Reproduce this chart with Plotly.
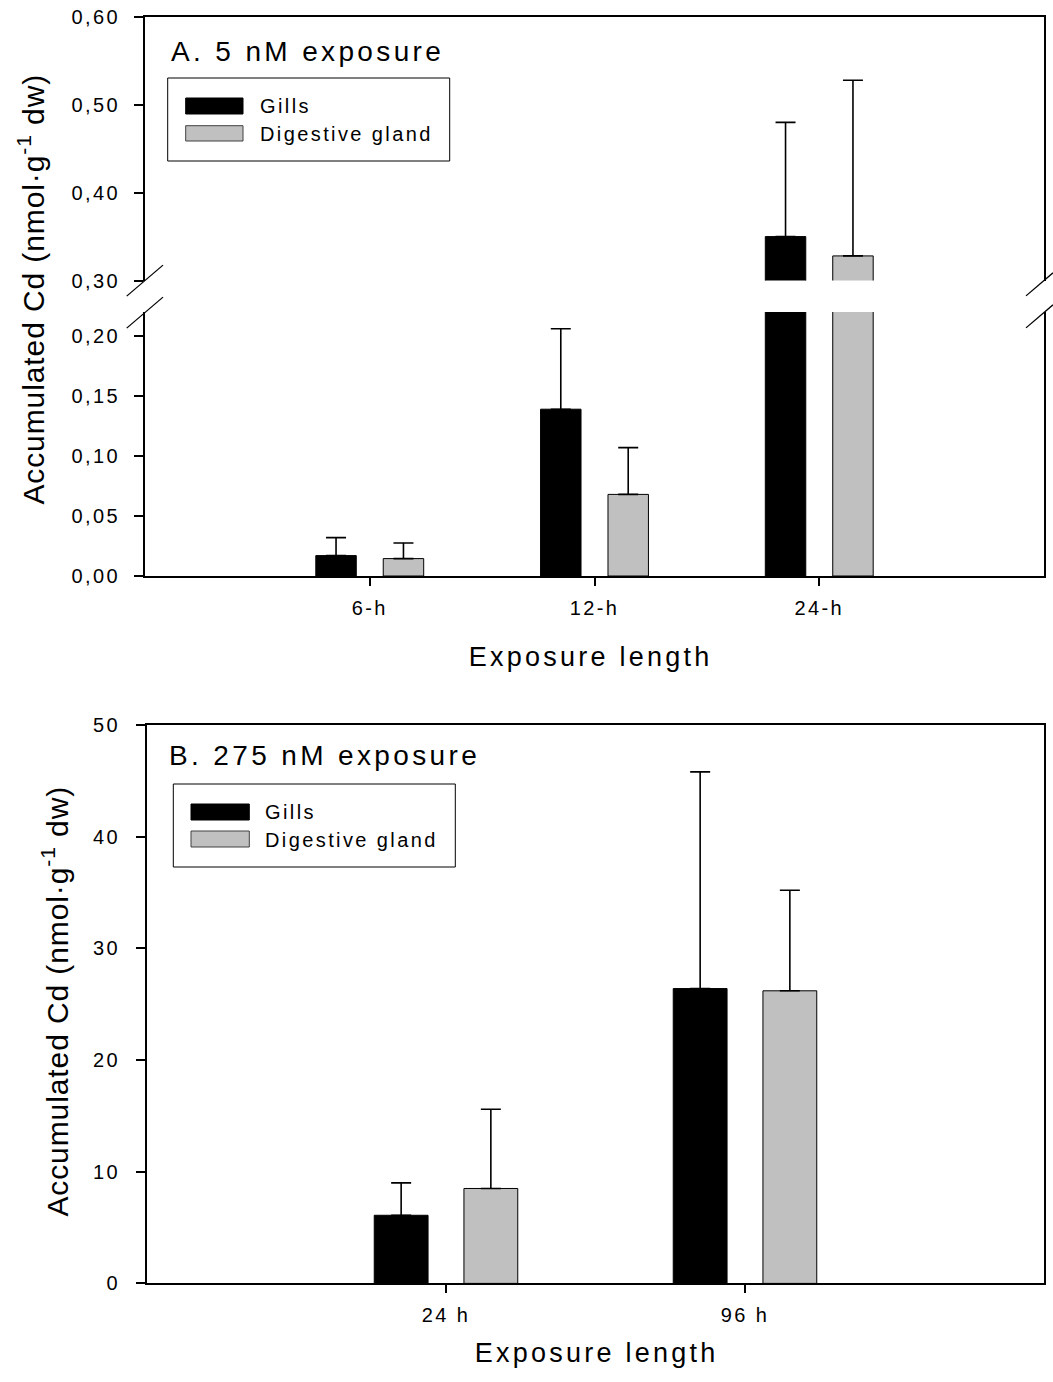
import plotly.graph_objects as go

# ---------------- data ----------------
cats_a = ["6-h", "12-h", "24-h"]
gills_a = [0.017, 0.139, 0.350]
gills_a_err = [0.015, 0.067, 0.130]
dg_a = [0.0145, 0.068, 0.328]
dg_a_err = [0.013, 0.039, 0.200]

cats_b = ["24 h", "96 h"]
gills_b = [6.1, 26.4]
gills_b_err = [2.9, 19.4]
dg_b = [8.5, 26.2]
dg_b_err = [7.1, 9.0]

series_names = ["Gills", "Digestive gland"]
title_a = "A. 5 nM exposure"
title_b = "B. 275 nM exposure"
x_title = "Exposure length"
y_title = "Accumulated Cd (nmol·g<sup>-1</sup> dw)"

# ---------------- style ----------------
W, H = 1053, 1382
FONT = "Arial, 'Liberation Sans', sans-serif"
GILL_COLOR = "#000000"
DG_COLOR = "#c0c0c0"


def px(p):
    return p / W


def py(p):
    return 1 - p / H


fig = go.Figure()


def add_bars(cats, vals, errs, color, name, xa, ya):
    fig.add_trace(go.Bar(
        x=cats, y=vals, name=name, xaxis=xa, yaxis=ya,
        marker=dict(color=color, line=dict(color="#000000", width=1)),
        error_y=dict(type="data", symmetric=False, array=errs,
                     arrayminus=[0] * len(errs), color="#000000",
                     thickness=1.6, width=10),
        showlegend=False,
    ))


# Panel A: lower and upper segments of the broken axis
for xa, ya in (("x", "y"), ("x2", "y2")):
    add_bars(cats_a, gills_a, gills_a_err, GILL_COLOR, series_names[0], xa, ya)
    add_bars(cats_a, dg_a, dg_a_err, DG_COLOR, series_names[1], xa, ya)

# Panel B
add_bars(cats_b, gills_b, gills_b_err, GILL_COLOR, series_names[0], "x3", "y3")
add_bars(cats_b, dg_b, dg_b_err, DG_COLOR, series_names[1], "x3", "y3")

axis_common = dict(showgrid=False, zeroline=False, linecolor="#000000",
                   linewidth=2, tickcolor="#000000", automargin=False,
                   tickfont=dict(family=FONT, size=20, color="#000000"))

fig.update_layout(
    width=W, height=H, autosize=False,
    margin=dict(l=0, r=0, t=0, b=0, pad=0, autoexpand=False),
    paper_bgcolor="white", plot_bgcolor="white",
    barmode="group", bargap=0.4, bargroupgap=0.4,
    separators=",.",
    font=dict(family=FONT, color="#000000"),
    xaxis=dict(**axis_common, domain=[px(145), px(1044)], anchor="y",
               type="category", categoryorder="array", categoryarray=cats_a,
               range=[-1, 3], showline=True, ticks="outside", ticklen=8,
               tickwidth=1.5, ticklabelstandoff=5),
    yaxis=dict(**axis_common, domain=[py(576), py(312)], anchor="x",
               range=[0, 0.22], tick0=0, dtick=0.05, tickformat=".2f",
               showline=True, mirror=True, ticks="outside", ticklen=9,
               tickwidth=1.5, ticklabelstandoff=10),
    xaxis2=dict(**axis_common, domain=[px(145), px(1044)], anchor="y2",
                matches="x", type="category", categoryorder="array",
                categoryarray=cats_a, side="top", showline=True,
                showticklabels=False, ticks=""),
    yaxis2=dict(**axis_common, domain=[py(280.5), py(17)], anchor="x2",
                range=[0.30, 0.60], tick0=0.3, dtick=0.1, tickformat=".2f",
                showline=True, mirror=True, ticks="outside", ticklen=9,
                tickwidth=1.5, ticklabelstandoff=10),
    xaxis3=dict(**axis_common, domain=[px(147), px(1044)], anchor="y3",
                type="category", categoryorder="array", categoryarray=cats_b,
                range=[-1, 2], showline=True, mirror=True, ticks="outside",
                ticklen=8, tickwidth=1.5, ticklabelstandoff=5),
    yaxis3=dict(**axis_common, domain=[py(1283.4), py(725)], anchor="x3",
                range=[0, 50], tick0=0, dtick=10, tickformat=".0f",
                showline=True, mirror=True, ticks="outside", ticklen=9,
                tickwidth=1.5, ticklabelstandoff=12),
)

shapes = []
# axis-break marks on both sides of panel A
for x0, x1 in ((126.7, 163), (1026, 1053)):
    for yc in (280.5, 312.5):
        slope = -31.0 / 36.3
        xm = 145 if x0 < 500 else 1044
        shapes.append(dict(type="line", xref="paper", yref="paper",
                           x0=px(x0), y0=py(yc + slope * (x0 - xm)),
                           x1=px(x1), y1=py(yc + slope * (x1 - xm)),
                           line=dict(color="#000000", width=1.3)))

annotations = []


def legend_box(bx0, by0, bx1, by1, sx0, sx1, sy, ty, tx):
    shapes.append(dict(type="rect", xref="paper", yref="paper",
                       x0=px(bx0), y0=py(by0), x1=px(bx1), y1=py(by1),
                       line=dict(color="#000000", width=1), fillcolor="white",
                       layer="above"))
    colors = [GILL_COLOR, DG_COLOR]
    lines = ["#000000", "#404040"]
    for i in range(2):
        shapes.append(dict(type="rect", xref="paper", yref="paper",
                           x0=px(sx0), x1=px(sx1),
                           y0=py(sy[i][0]), y1=py(sy[i][1]),
                           fillcolor=colors[i],
                           line=dict(color=lines[i], width=1), layer="above"))
        annotations.append(dict(text=series_names[i], xref="paper",
                                yref="paper", x=px(tx), y=py(ty[i]),
                                xanchor="left", yanchor="middle", align="left",
                                showarrow=False,
                                font=dict(family=FONT, size=20,
                                          color="#000000")))


# y-axis titles first (annotation indexes 0 and 1)
annotations.append(dict(text=y_title, xref="paper", yref="paper",
                        x=px(31), y=py(289), textangle=-90,
                        xanchor="center", yanchor="middle", showarrow=False,
                        font=dict(family=FONT, size=30, color="#000000")))
annotations.append(dict(text=y_title, xref="paper", yref="paper",
                        x=px(55), y=py(1001), textangle=-90,
                        xanchor="center", yanchor="middle", showarrow=False,
                        font=dict(family=FONT, size=30, color="#000000")))

# panel titles
annotations.append(dict(text=title_a, xref="paper", yref="paper",
                        x=px(169), y=py(51), xanchor="left", yanchor="middle",
                        align="left", showarrow=False,
                        font=dict(family=FONT, size=28, color="#000000")))
annotations.append(dict(text=title_b, xref="paper", yref="paper",
                        x=px(167), y=py(755), xanchor="left", yanchor="middle",
                        align="left", showarrow=False,
                        font=dict(family=FONT, size=28, color="#000000")))

# x-axis titles
annotations.append(dict(text=x_title, xref="paper", yref="paper",
                        x=px(590), y=py(657), xanchor="center",
                        yanchor="middle", showarrow=False,
                        font=dict(family=FONT, size=27, color="#000000")))
annotations.append(dict(text=x_title, xref="paper", yref="paper",
                        x=px(596), y=py(1353), xanchor="center",
                        yanchor="middle", showarrow=False,
                        font=dict(family=FONT, size=27, color="#000000")))

legend_box(167.7, 78, 449.7, 161, 185.7, 243,
           [(98, 114), (125.7, 141)], [106.4, 134], 258)
legend_box(173.3, 784, 455.3, 867, 191, 249.3,
           [(804, 820), (831, 847)], [812.4, 839.8], 263.3)

fig.update_layout(shapes=shapes, annotations=annotations)

post = """
var st = document.createElement('style');
st.textContent = 'html,body{margin:0;padding:0;overflow:hidden;}' +
  '.js-plotly-plot text{letter-spacing:0.12em;}' +
  '.js-plotly-plot .annotation[data-index="0"] text,' +
  '.js-plotly-plot .annotation[data-index="1"] text{letter-spacing:0.03em;}';
document.head.appendChild(st);
"""

fig.write_html("out.html", post_script=post, config={"displayModeBar": False})
